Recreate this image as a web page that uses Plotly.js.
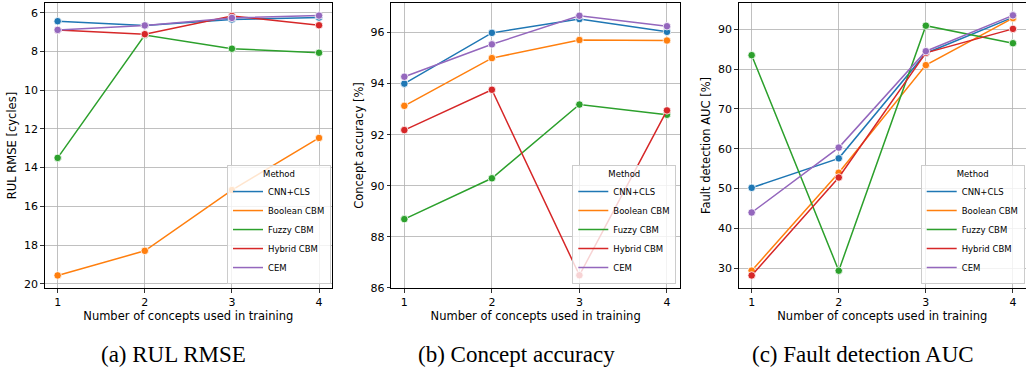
<!DOCTYPE html>
<html>
<head>
<meta charset="utf-8">
<script src="https://cdn.plot.ly/plotly-3.0.1.min.js"></script>
<style>html,body{margin:0;padding:0;background:#fff;}#chart{width:1026px;height:371px;}</style>
</head>
<body>
<div id="chart"></div>
<script>
// ---- data ----
const conceptsUsed = [1, 2, 3, 4];
const methods = ["CNN+CLS", "Boolean CBM", "Fuzzy CBM", "Hybrid CBM", "CEM"];
const methodColors = ["#1f77b4", "#ff7f0e", "#2ca02c", "#d62728", "#9467bd"];

// (a) RUL RMSE [cycles]
const rulCnnCls  = [6.44, 6.66, 6.35, 6.25];
const rulBoolean = [19.57, 18.30, 15.16, 12.47];
const rulFuzzy   = [13.50, 7.15, 7.86, 8.07];
const rulHybrid  = [6.89, 7.11, 6.17, 6.65];
const rulCem     = [6.89, 6.66, 6.27, 6.15];

// (b) Concept accuracy [%]
const accCnnCls  = [94.00, 95.99, 96.53, 96.03];
const accBoolean = [93.13, 95.00, 95.71, 95.69];
const accFuzzy   = [88.69, 90.29, 93.18, 92.78];
const accHybrid  = [92.18, 93.76, 86.49, 92.95];
const accCem     = [94.27, 95.54, 96.66, 96.25];

// (c) Fault detection AUC [%]
const aucCnnCls  = [50.2, 57.6, 84.0, 93.0];
const aucBoolean = [29.4, 54.0, 81.0, 92.8];
const aucFuzzy   = [83.5, 29.4, 90.9, 86.5];
const aucHybrid  = [28.2, 52.8, 84.1, 90.1];
const aucCem     = [44.0, 60.3, 84.5, 93.5];

const panelSeries = [
  [rulCnnCls, rulBoolean, rulFuzzy, rulHybrid, rulCem],
  [accCnnCls, accBoolean, accFuzzy, accHybrid, accCem],
  [aucCnnCls, aucBoolean, aucFuzzy, aucHybrid, aucCem]
];
const xTitle = "Number of concepts used in training";
const yTitles = ["RUL RMSE [cycles]", "Concept accuracy [%]", "Fault detection AUC [%]"];
const captions = ["(a) RUL RMSE", "(b) Concept accuracy", "(c) Fault detection AUC"];

// ---- traces ----
const traces = [];
panelSeries.forEach((series, p) => {
  const xa = p === 0 ? "x" : "x" + (p + 1);
  const ya = p === 0 ? "y" : "y" + (p + 1);
  const lg = p === 0 ? "legend" : "legend" + (p + 1);
  series.forEach((vals, i) => {
    traces.push({
      x: conceptsUsed, y: vals, xaxis: xa, yaxis: ya, legend: lg,
      type: "scatter", mode: "lines", name: methods[i],
      line: {color: methodColors[i], width: 1.5},
      showlegend: true, hoverinfo: "skip"
    });
    traces.push({
      x: conceptsUsed, y: vals, xaxis: xa, yaxis: ya,
      type: "scatter", mode: "markers", name: methods[i],
      marker: {color: methodColors[i], size: 7.5, line: {color: "#ffffff", width: 0.8}},
      showlegend: false
    });
  });
});

// ---- layout ----
const W = 1026, H = 371;
const font = {family: "DejaVu Sans", color: "#000"};
function axisBase() {
  return {
    showline: true, mirror: true, linecolor: "#000", linewidth: 1,
    ticks: "outside", ticklen: 3.5, tickwidth: 0.8, tickcolor: "#000",
    showgrid: true, gridcolor: "#b0b0b0", gridwidth: 0.8, zeroline: false,
    tickfont: Object.assign({size: 11}, font), automargin: false
  };
}
const xDomains = [[44.6 / W, 332.1 / W], [391.2 / W, 680.1 / W], [738.6 / W, 1]];
const yDomain = [1 - 288 / H, 1 - 3 / H];
const yRanges = [[20.22, 5.5], [85.99, 97.16], [25.05, 96.6]];
const yDticks = [2, 2, 10];
const legendRight = [331 / W, 676.3 / W, 1024.7 / W];
const captionX = [173 / W, 516 / W, 863 / W];

const layout = {
  width: W, height: H,
  margin: {l: 0, r: 0, t: 0, b: 0},
  paper_bgcolor: "#fff", plot_bgcolor: "#fff",
  font: font,
  annotations: []
};
for (let p = 0; p < 3; p++) {
  const xk = p === 0 ? "xaxis" : "xaxis" + (p + 1);
  const yk = p === 0 ? "yaxis" : "yaxis" + (p + 1);
  const lk = p === 0 ? "legend" : "legend" + (p + 1);
  const ya = p === 0 ? "y" : "y" + (p + 1);
  const xa = p === 0 ? "x" : "x" + (p + 1);
  layout[xk] = Object.assign(axisBase(), {
    domain: xDomains[p], range: [0.85, 4.15], anchor: ya,
    tickmode: "array", tickvals: conceptsUsed, ticktext: conceptsUsed.map(String),
    title: {text: xTitle, font: Object.assign({size: 11.5}, font), standoff: 3}
  });
  layout[yk] = Object.assign(axisBase(), {
    domain: yDomain, range: yRanges[p], anchor: xa,
    tickmode: "linear", dtick: yDticks[p], tick0: 0,
    title: {text: yTitles[p], font: Object.assign({size: 11.5}, font), standoff: 4}
  });
  layout[lk] = {
    x: legendRight[p], xanchor: "right", y: 1 - 284 / H, yanchor: "bottom",
    xref: "paper", yref: "paper",
    bgcolor: "rgba(255,255,255,0.8)", bordercolor: "#cccccc", borderwidth: 1,
    font: Object.assign({size: 8.5}, font),
    title: {text: "Method", side: "top center", font: Object.assign({size: 8.5}, font)},
    traceorder: "normal", tracegroupgap: 0
  };
  layout.annotations.push({
    text: captions[p], xref: "paper", yref: "paper",
    x: captionX[p], y: 1 - 354 / H, xanchor: "center", yanchor: "middle",
    showarrow: false, font: {family: "Liberation Serif", size: 23, color: "#000"}
  });
}

Plotly.newPlot("chart", traces, layout, {staticPlot: true, displayModeBar: false});
</script>
</body>
</html>
